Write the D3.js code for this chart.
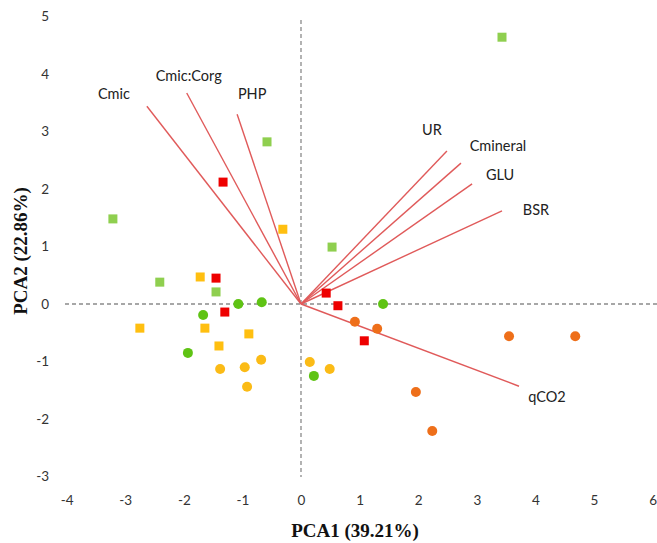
<!DOCTYPE html>
<html>
<head>
<meta charset="utf-8">
<script src="https://cdn.jsdelivr.net/npm/d3@7"></script>
<style>
  body { margin: 0; background: #fff; }
  .tick text { font-family: Lato, sans-serif; font-size: 13.5px; fill: #333; }
  .lbl { font-family: Lato, sans-serif; font-size: 14.5px; fill: #222; }
  .title { font-family: "Liberation Serif", serif; font-size: 19px; font-weight: bold; fill: #111; }
</style>
</head>
<body>
<div id="chart"></div>
<script>
// loadings (arrows)
var loadNames = ["Cmic", "Cmic:Corg", "PHP", "UR", "Cmineral", "GLU", "BSR", "qCO2"];
var loadX = [-2.63, -1.95, -1.09, 2.49, 2.73, 2.92, 3.43, 3.72];
var loadY = [3.44, 3.67, 3.30, 2.66, 2.45, 2.09, 1.62, -1.43];

// sample scores by group
var lgSquareX = [-0.58, -3.21, 3.43, 0.53, -2.41, -1.45];
var lgSquareY = [2.82, 1.48, 4.64, 0.99, 0.38, 0.21];
var redSquareX = [-1.33, -1.45, -1.30, 0.43, 0.63, 1.08];
var redSquareY = [2.12, 0.45, -0.14, 0.19, -0.03, -0.64];
var ySquareX = [-0.31, -1.72, -2.75, -1.64, -0.89, -1.40];
var ySquareY = [1.30, 0.47, -0.42, -0.42, -0.52, -0.73];
var gCircleX = [-1.07, -0.67, -1.67, -1.93, 0.22, 1.40];
var gCircleY = [0.00, 0.03, -0.19, -0.85, -1.25, 0.00];
var yCircleX = [-1.38, -0.96, -0.68, -0.92, 0.15, 0.49];
var yCircleY = [-1.13, -1.10, -0.97, -1.44, -1.01, -1.13];
var oCircleX = [0.92, 1.30, 3.55, 4.68, 1.96, 2.24];
var oCircleY = [-0.31, -0.43, -0.56, -0.56, -1.53, -2.21];

var xTicks = [-4, -3, -2, -1, 0, 1, 2, 3, 4, 5, 6];
var yTicks = [-3, -2, -1, 0, 1, 2, 3, 4, 5];

var cfg = { width: 657, height: 543 };

var x = d3.scaleLinear().domain([-4, 6]).range([66.6, 652.6]);
var y = d3.scaleLinear().domain([-3, 5]).range([476.5, 16.5]);

var svg = d3.select("#chart").append("svg")
    .attr("width", cfg.width)
    .attr("height", cfg.height);

// dashed zero lines
svg.append("line")
    .attr("x1", 65).attr("x2", 657)
    .attr("y1", y(0)).attr("y2", y(0))
    .attr("stroke", "#8a8a8a").attr("stroke-width", 1.3)
    .attr("stroke-dasharray", "4,3");
svg.append("line")
    .attr("x1", x(0)).attr("x2", x(0))
    .attr("y1", 20).attr("y2", 477)
    .attr("stroke", "#8a8a8a").attr("stroke-width", 1.3)
    .attr("stroke-dasharray", "4,3");

// axes (labels only), plain hyphen for negatives like the original
var fmt = function(d){ return String(d); };
var xAxis = d3.axisBottom(x).tickValues(xTicks).tickFormat(fmt).tickSize(0).tickPadding(5);
var yAxis = d3.axisLeft(y).tickValues(yTicks).tickFormat(fmt).tickSize(0).tickPadding(3);

svg.append("g")
    .attr("transform", "translate(0,490)")
    .call(xAxis)
    .call(function(g){ g.select(".domain").remove(); });

svg.append("g")
    .attr("transform", "translate(52,0)")
    .call(yAxis)
    .call(function(g){ g.select(".domain").remove(); });

// loading lines
var loadings = loadNames.map(function(n, i){ return {name: n, x: loadX[i], y: loadY[i]}; });
svg.selectAll(".load")
    .data(loadings)
    .enter().append("line")
    .attr("class", "load")
    .attr("x1", x(0)).attr("y1", y(0))
    .attr("x2", function(d){ return x(d.x); })
    .attr("y2", function(d){ return y(d.y); })
    .attr("stroke", "#e05a5a")
    .attr("stroke-width", 1.4);

// label offsets in px relative to line end
var labOff = {
    "Cmic": [-33, -12], "Cmic:Corg": [2, -17], "PHP": [15, -20],
    "UR": [-15, -21], "Cmineral": [37, -17], "GLU": [28, -9],
    "BSR": [34, -1], "qCO2": [28, 11]
};
svg.selectAll(".lbl")
    .data(loadings)
    .enter().append("text")
    .attr("class", "lbl")
    .attr("text-anchor", "middle")
    .attr("dy", "0.35em")
    .attr("x", function(d){ return x(d.x) + labOff[d.name][0]; })
    .attr("y", function(d){ return y(d.y) + labOff[d.name][1]; })
    .text(function(d){ return d.name; });

function pts(xs, ys){ return xs.map(function(v, i){ return [v, ys[i]]; }); }

var squares = [
    {data: pts(lgSquareX, lgSquareY), color: "#8fcf4f"},
    {data: pts(ySquareX, ySquareY), color: "#ffbf10"},
    {data: pts(redSquareX, redSquareY), color: "#ee0000"}
];
var circles = [
    {data: pts(gCircleX, gCircleY), color: "#5fc314"},
    {data: pts(yCircleX, yCircleY), color: "#fbbb16"},
    {data: pts(oCircleX, oCircleY), color: "#ee6f1a"}
];

var s = 9;
squares.forEach(function(grp){
    svg.append("g").selectAll("rect")
        .data(grp.data)
        .enter().append("rect")
        .attr("x", function(d){ return x(d[0]) - s / 2; })
        .attr("y", function(d){ return y(d[1]) - s / 2; })
        .attr("width", s).attr("height", s)
        .attr("fill", grp.color);
});
circles.forEach(function(grp){
    svg.append("g").selectAll("circle")
        .data(grp.data)
        .enter().append("circle")
        .attr("cx", function(d){ return x(d[0]); })
        .attr("cy", function(d){ return y(d[1]); })
        .attr("r", 5)
        .attr("fill", grp.color);
});

// titles
svg.append("text")
    .attr("class", "title")
    .attr("x", 355).attr("y", 537)
    .attr("text-anchor", "middle")
    .text("PCA1 (39.21%)");

svg.append("text")
    .attr("class", "title")
    .attr("transform", "translate(27,251) rotate(-90)")
    .attr("text-anchor", "middle")
    .text("PCA2 (22.86%)");
</script>
</body>
</html>
